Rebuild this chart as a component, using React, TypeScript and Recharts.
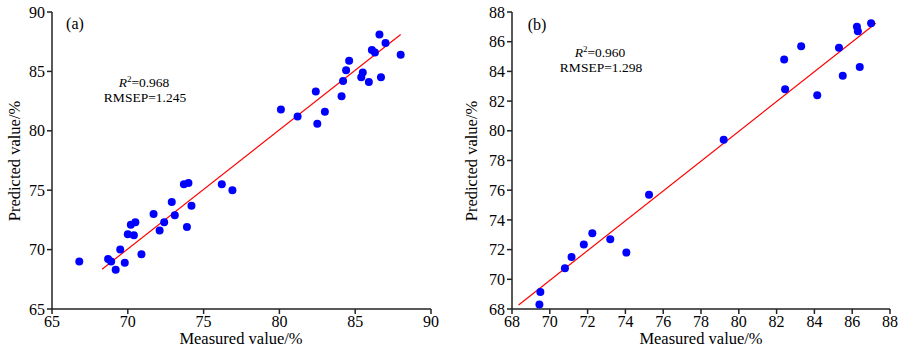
import React from "react";
import {
  ScatterChart,
  Scatter,
  XAxis,
  YAxis,
  ReferenceLine,
} from "recharts";

// (a) calibration set
const measuredA = [
  86.6, 87.0, 88.0, 86.1, 86.3, 84.6, 84.4, 85.5, 85.4, 85.9, 86.7, 84.2, 82.4, 84.1, 83.0, 80.1, 81.2, 82.5,
  73.7, 74.0, 76.2, 76.9, 72.9, 74.2, 71.7, 73.1, 72.4, 70.5, 70.2, 73.9, 72.1, 70.0, 70.4, 69.5, 70.9, 66.8,
  68.7, 68.9, 69.8, 69.2,
];
const predictedA = [
  88.1, 87.4, 86.4, 86.8, 86.6, 85.9, 85.1, 84.9, 84.5, 84.1, 84.5, 84.2, 83.3, 82.9, 81.6, 81.8, 81.2, 80.6,
  75.5, 75.6, 75.5, 75.0, 74.0, 73.7, 73.0, 72.9, 72.3, 72.3, 72.1, 71.9, 71.6, 71.3, 71.2, 70.0, 69.6, 69.0,
  69.2, 69.0, 68.9, 68.3,
];

// (b) prediction set
const measuredB = [
  87.0, 86.25, 86.3, 83.3, 85.3, 82.4, 86.4, 85.5, 82.45, 84.15, 79.2, 75.25, 72.25, 73.2, 71.8, 74.05, 71.15,
  70.8, 69.5, 69.45,
];
const predictedB = [
  87.25, 87.0, 86.7, 85.7, 85.6, 84.8, 84.3, 83.7, 82.8, 82.4, 79.4, 75.7, 73.1, 72.7, 72.35, 71.8, 71.5,
  70.75, 69.15, 68.3,
];

const ticksA = [65, 70, 75, 80, 85, 90];
const ticksB = [68, 70, 72, 74, 76, 78, 80, 82, 84, 86, 88];
const fitA = [
  { x: 68.3, y: 68.35 },
  { x: 88.0, y: 88.1 },
];
const fitB = [
  { x: 68.35, y: 68.27 },
  { x: 87.25, y: 87.24 },
];

const pointsA = measuredA.map((x, i) => ({ x, y: predictedA[i] }));
const pointsB = measuredB.map((x, i) => ({ x, y: predictedB[i] }));

const FONT = '"Liberation Serif", "Times New Roman", serif';
const tick = { fontSize: 16, fill: "#000", fontFamily: FONT };
const axisLine = { stroke: "#222", strokeWidth: 1.5 };

const Dot = (props: any) => <circle cx={props.cx} cy={props.cy} r={4} fill="#0000FF" />;

const textStyle: React.CSSProperties = {
  position: "absolute",
  fontFamily: FONT,
  color: "#000",
  whiteSpace: "nowrap",
  lineHeight: 1,
};

function Panel({
  points,
  fit,
  ticks,
  yWidth,
  right,
}: {
  points: { x: number; y: number }[];
  fit: { x: number; y: number }[];
  ticks: number[];
  yWidth: number;
  right: number;
}) {
  const domain = [ticks[0], ticks[ticks.length - 1]];
  return (
    <ScatterChart width={450} height={352} margin={{ top: 12, right, bottom: 0, left: 0 }}>
      <XAxis
        type="number"
        dataKey="x"
        domain={domain}
        ticks={ticks}
        height={43}
        tick={tick}
        axisLine={axisLine}
        tickLine={axisLine}
        tickSize={5}
        interval={0}
      />
      <YAxis
        type="number"
        dataKey="y"
        domain={domain}
        ticks={ticks}
        width={yWidth}
        tick={tick}
        axisLine={axisLine}
        tickLine={axisLine}
        tickSize={5}
        interval={0}
      />
      <ReferenceLine segment={fit} stroke="#FF0000" strokeWidth={1.2} ifOverflow="visible" />
      <Scatter data={points} shape={Dot} isAnimationActive={false} />
    </ScatterChart>
  );
}

export default function App() {
  return (
    <div style={{ position: "absolute", left: 0, top: 0, width: 900, height: 352, background: "#fff" }}>
      <div style={{ position: "absolute", left: 0, top: 0 }}>
        <Panel points={pointsA} fit={fitA} ticks={ticksA} yWidth={52} right={19} />
      </div>
      <div style={{ position: "absolute", left: 450, top: 0 }}>
        <Panel points={pointsB} fit={fitB} ticks={ticksB} yWidth={62} right={10} />
      </div>

      {/* axis titles */}
      <div style={{ ...textStyle, fontSize: 16.5, left: 15, top: 161, transform: "translate(-50%,-50%) rotate(-90deg)" }}>
        Predicted value/%
      </div>
      <div style={{ ...textStyle, fontSize: 16.5, left: 472, top: 161, transform: "translate(-50%,-50%) rotate(-90deg)" }}>
        Predicted value/%
      </div>
      <div style={{ ...textStyle, fontSize: 16.5, left: 241, top: 339, transform: "translate(-50%,-50%)" }}>
        Measured value/%
      </div>
      <div style={{ ...textStyle, fontSize: 16.5, left: 701, top: 339, transform: "translate(-50%,-50%)" }}>
        Measured value/%
      </div>

      {/* panel tags */}
      <div style={{ ...textStyle, fontSize: 16, left: 75, top: 24, transform: "translate(-50%,-50%)" }}>(a)</div>
      <div style={{ ...textStyle, fontSize: 16, left: 537, top: 25, transform: "translate(-50%,-50%)" }}>(b)</div>

      {/* statistics */}
      <div style={{ ...textStyle, fontSize: 13.5, left: 144, top: 82, transform: "translate(-50%,-50%)" }}>
        <i>R</i>
        <sup style={{ fontSize: 9 }}>2</sup>=0.968
      </div>
      <div style={{ ...textStyle, fontSize: 13.5, left: 145, top: 98, transform: "translate(-50%,-50%)" }}>
        RMSEP=1.245
      </div>
      <div style={{ ...textStyle, fontSize: 13.5, left: 600, top: 52, transform: "translate(-50%,-50%)" }}>
        <i>R</i>
        <sup style={{ fontSize: 9 }}>2</sup>=0.960
      </div>
      <div style={{ ...textStyle, fontSize: 13.5, left: 601, top: 68, transform: "translate(-50%,-50%)" }}>
        RMSEP=1.298
      </div>
    </div>
  );
}
